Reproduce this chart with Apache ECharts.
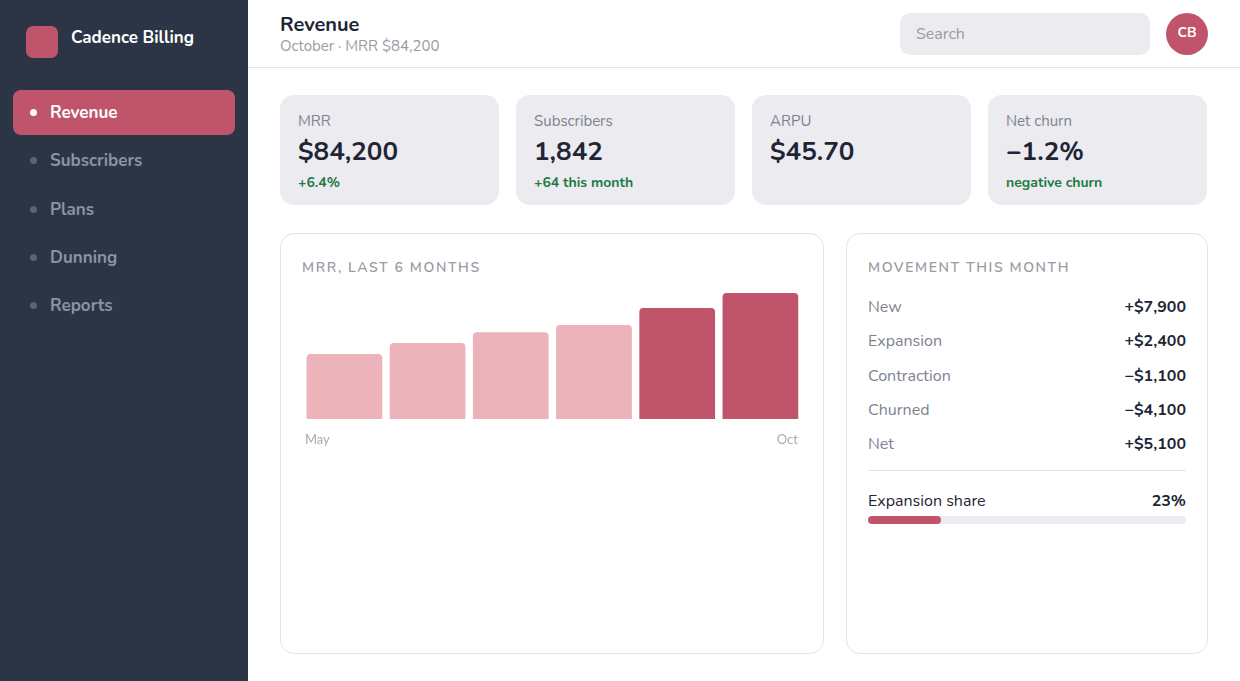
<!DOCTYPE html>
<html><head><meta charset="utf-8">
<script src="https://cdn.jsdelivr.net/npm/echarts@6/dist/echarts.min.js"></script>
<style>
*{box-sizing:border-box;margin:0;padding:0}
body{width:1240px;height:681px;overflow:hidden;font-family:"Nunito",Lato,"Open Sans",sans-serif;background:#fff;position:relative;color:#1f2535}
.side{position:absolute;left:0;top:0;width:248px;height:681px;background:#2c3546}
.logo{position:absolute;left:26px;top:26px;width:32px;height:32px;border-radius:7px;background:#c0546a}
.brand{position:absolute;left:71px;top:26px;color:#fff;font-weight:700;font-size:17px}
.nav{position:absolute;left:13px;width:222px;height:45px;border-radius:8px;color:#8a93a3;font-weight:700;font-size:17px;line-height:45px;padding-left:37px}
.nav::before{content:"";position:absolute;left:17px;top:19px;width:7px;height:7px;border-radius:50%;background:#5a6475}
.nav.on{background:#c0546a;color:#fff}
.nav.on::before{background:#fff}
.hdr{position:absolute;left:248px;top:0;right:0;height:68px;border-bottom:1px solid #e6e6ea}
.abs{position:absolute}
.card{position:absolute;top:95px;width:219px;height:110px;border-radius:14px;background:#ebebf0;padding:16px 18px}
.card .l{font-size:15px;color:#7d8290}
.card .v{font-size:26px;font-weight:700;margin-top:3px;color:#1f2535}
.card .s{font-size:14px;font-weight:700;color:#1e7a45;margin-top:4px}
.panel{position:absolute;top:233px;height:421px;border:1px solid #e3e3e8;border-radius:14px}
.ptitle{position:absolute;top:24px;left:21px;font-size:14px;letter-spacing:1.6px;color:#9a9ba4;font-weight:600}
.row{position:absolute;left:21px;right:21px;font-size:16px;color:#7d8290}
.row b{position:absolute;right:0;color:#1f2535}
</style></head><body>
<div class="side">
<div class="logo"></div><div class="brand">Cadence Billing</div>
<div class="nav on" style="top:90px">Revenue</div>
<div class="nav" style="top:138px">Subscribers</div>
<div class="nav" style="top:187px">Plans</div>
<div class="nav" style="top:235px">Dunning</div>
<div class="nav" style="top:283px">Reports</div>
</div>
<div class="hdr">
<div class="abs" style="left:32px;top:11px;font-size:20px;font-weight:700">Revenue</div>
<div class="abs" style="left:32px;top:36px;font-size:15px;color:#9a9ba4">October · MRR $84,200</div>
<div class="abs" style="left:652px;top:13px;width:250px;height:42px;border-radius:10px;background:#ebebf0;color:#9a9ba4;font-size:16px;line-height:42px;padding-left:16px">Search</div>
<div class="abs" style="left:918px;top:13px;width:42px;height:42px;border-radius:50%;background:#c0546a;color:#fff;font-weight:700;font-size:14px;text-align:center;line-height:40px">CB</div>
</div>
<div class="card" style="left:280px"><div class="l">MRR</div><div class="v">$84,200</div><div class="s">+6.4%</div></div>
<div class="card" style="left:516px"><div class="l">Subscribers</div><div class="v">1,842</div><div class="s">+64 this month</div></div>
<div class="card" style="left:752px"><div class="l">ARPU</div><div class="v">$45.70</div></div>
<div class="card" style="left:988px"><div class="l">Net churn</div><div class="v">−1.2%</div><div class="s">negative churn</div></div>
<div class="panel" style="left:280px;width:544px"><div class="ptitle">MRR, LAST 6 MONTHS</div></div>
<div id="chart" class="abs" style="left:302px;top:285px;width:500px;height:170px"></div>
<div class="panel" style="left:846px;width:362px">
<div class="ptitle">MOVEMENT THIS MONTH</div>
<div id="rows"></div>
<div class="abs" style="left:21px;right:21px;top:236px;border-top:1px solid #e3e3e8"></div>
<div class="row" style="top:256px;color:#1f2535">Expansion share<b>23%</b></div>
<div class="abs" style="left:21px;right:21px;top:282px;height:8px;border-radius:4px;background:#ebebf0"><div style="width:23%;height:8px;border-radius:4px;background:#c0546a"></div></div>
</div>
<script>
const months=["May","Jun","Jul","Aug","Sep","Oct"];
const mrr=[63500,67200,70900,73300,79100,84200];
const movLabels=["New","Expansion","Contraction","Churned","Net"];
const movValues=["+$7,900","+$2,400","−$1,100","−$4,100","+$5,100"];
document.getElementById('rows').innerHTML=movLabels.map((l,i)=>`<div class="row" style="top:${62+i*34.3}px">${l}<b>${movValues[i]}</b></div>`).join('');
const c=echarts.init(document.getElementById('chart'));
c.setOption({animation:false,
grid:{left:0,right:0,top:8,bottom:36},
xAxis:{type:'category',data:months,axisLine:{show:false},axisTick:{show:false},
 axisLabel:{interval:0,margin:14,color:'#a9aab2',fontSize:13,fontFamily:'Lato',
  formatter:(v,i)=>i===0?'{l|'+v+'}':(i===months.length-1?'{r|'+v+'}':''),
  rich:{l:{padding:[0,54,0,0],color:'#a9aab2',fontSize:13},r:{padding:[0,0,0,54],color:'#a9aab2',fontSize:13}}}},
yAxis:{type:'value',min:41400,max:84200,show:false,splitLine:{show:false}},
series:[{type:'bar',barCategoryGap:'9%',
 data:mrr.map((v,i)=>({value:v,itemStyle:{color:i>=4?'#c0546a':'#ecb3ba'}})),
 itemStyle:{borderRadius:[4,4,0,0]}}]});
</script>
</body></html>
